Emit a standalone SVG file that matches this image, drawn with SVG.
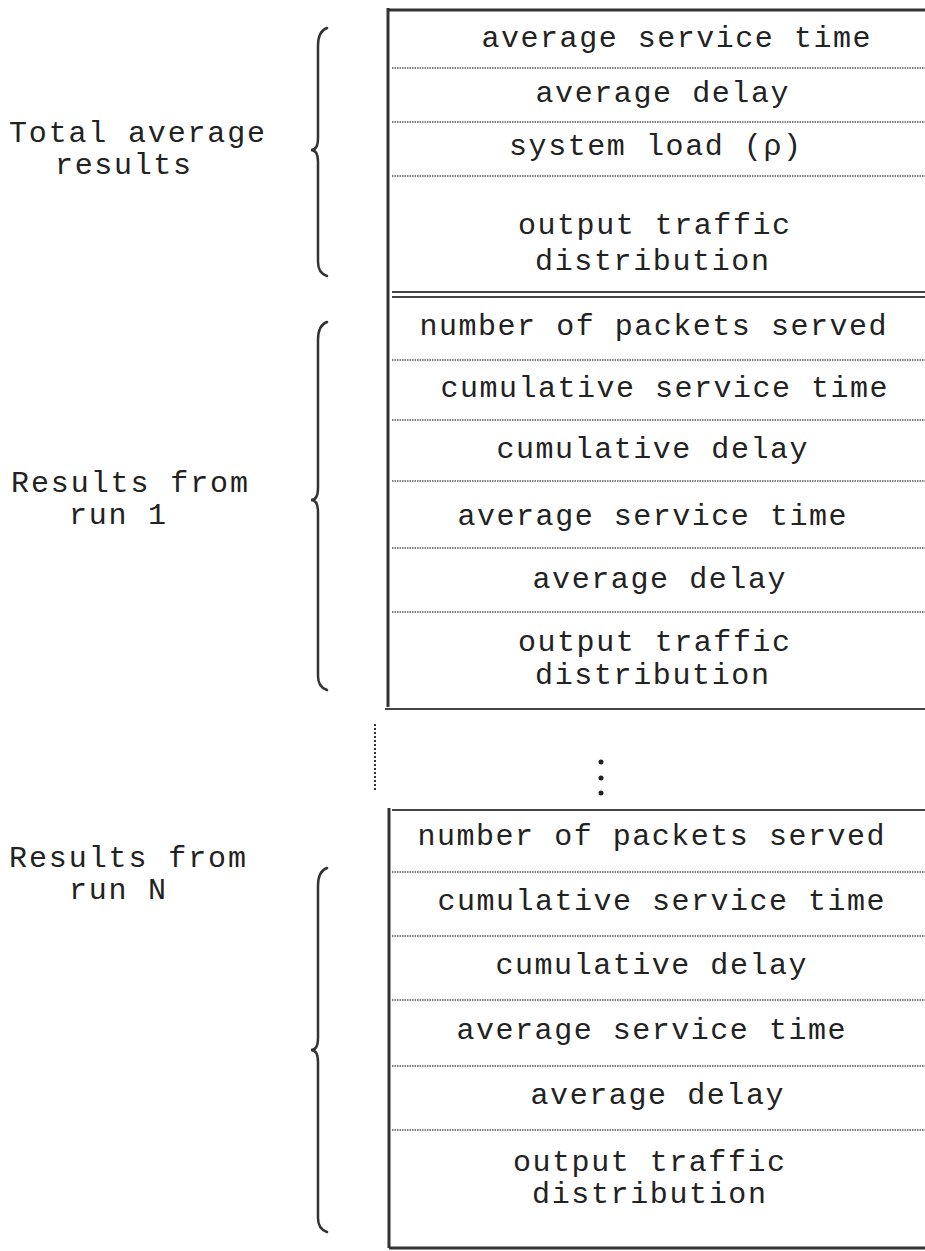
<svg xmlns="http://www.w3.org/2000/svg" width="925" height="1251" viewBox="0 0 925 1251">
<style>
text{font-family:"Liberation Mono","Courier New",monospace;font-size:30px;fill:#222}
.c{text-anchor:middle}
.sep{stroke:#555;stroke-width:1.4;stroke-dasharray:1.5 1;fill:none}
.vdot{stroke:#333;stroke-width:2;stroke-dasharray:2 2;fill:none}
.solid{stroke:#333;stroke-width:3;fill:none}
.thin{stroke:#444;stroke-width:2;fill:none}
.brace{stroke:#333;stroke-width:2.5;fill:none;stroke-linecap:round}
</style>
<rect width="925" height="1251" fill="#fff"/>
<g id="connectors">
<path class="solid" d="M388 8 V707"/>
<path class="solid" d="M388 10 H925"/>
<path class="thin" d="M392 292 H925 M392 297 H925"/>
<path class="thin" d="M385 709 H925"/>
<path class="vdot" d="M375 724 V790"/>
<path class="solid" d="M389 808 V1248"/>
<path class="thin" d="M392 810 H925"/>
<path class="solid" d="M389 1248 H925"/>
<path class="sep" d="M392 68 H925 M392 122 H925 M392 176 H925"/>
<path class="sep" d="M392 360 H925 M392 420 H925 M392 481 H925 M392 548 H925 M392 612 H925"/>
<path class="sep" d="M392 872 H925 M392 936 H925 M392 1000 H925 M392 1066 H925 M392 1130 H925"/>
<circle cx="601" cy="762" r="2.5" fill="#222"/>
<circle cx="601" cy="778" r="2.5" fill="#222"/>
<circle cx="601" cy="793" r="2.5" fill="#222"/>
</g>
<g id="brace-total">
<path class="brace" d="M327 28 Q318 31 318 46 V138 Q318 150 311 150 Q318 150 318 162 V262 Q318 273 327 276"/>
<text x="9" y="142" textLength="256">Total average</text>
<text x="55" y="174" textLength="136">results</text>
</g>
<g id="brace-run1">
<path class="brace" d="M327 322 Q318 325 318 340 V488 Q318 500 311 500 Q318 500 318 512 V676 Q318 687 327 690"/>
<text x="11" y="492" textLength="237">Results from</text>
<text x="69" y="524" textLength="97">run 1</text>
</g>
<g id="brace-runN">
<path class="brace" d="M327 868 Q318 871 318 886 V1038 Q318 1050 311 1050 Q318 1050 318 1062 V1218 Q318 1229 327 1232"/>
<text x="9" y="867" textLength="237">Results from</text>
<text x="69" y="899" textLength="97">run N</text>
</g>
<g id="total-average">
<text class="c" x="676" y="47" textLength="389">average service time</text>
<text class="c" x="662" y="102" textLength="253">average delay</text>
<text class="c" x="655" y="155" textLength="292">system load (ρ)</text>
<text class="c" x="654" y="234" textLength="272">output traffic</text>
<text class="c" x="652" y="270" textLength="234">distribution</text>
</g>
<g id="run1">
<text class="c" x="653" y="335" textLength="467">number of packets served</text>
<text class="c" x="664" y="397" textLength="447">cumulative service time</text>
<text class="c" x="652" y="458" textLength="311">cumulative delay</text>
<text class="c" x="652" y="525" textLength="389">average service time</text>
<text class="c" x="659" y="588" textLength="253">average delay</text>
<text class="c" x="654" y="651" textLength="272">output traffic</text>
<text class="c" x="652" y="684" textLength="234">distribution</text>
</g>
<g id="runN">
<text class="c" x="651" y="845" textLength="467">number of packets served</text>
<text class="c" x="661" y="910" textLength="447">cumulative service time</text>
<text class="c" x="651" y="974" textLength="311">cumulative delay</text>
<text class="c" x="651" y="1039" textLength="389">average service time</text>
<text class="c" x="657" y="1104" textLength="253">average delay</text>
<text class="c" x="649" y="1171" textLength="272">output traffic</text>
<text class="c" x="649" y="1203" textLength="234">distribution</text>
</g>
</svg>
